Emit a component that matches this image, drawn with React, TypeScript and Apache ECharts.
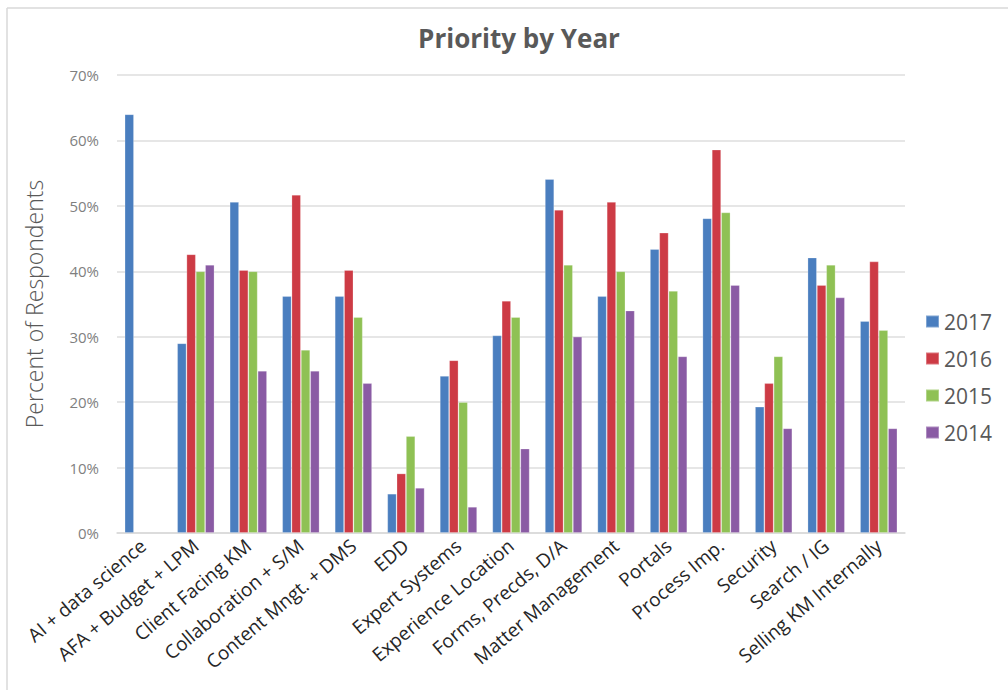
import React, { useEffect, useRef } from "react";
import * as echarts from "echarts";

// Survey priorities, share of respondents (%) per year
const categories = [
  "AI + data science",
  "AFA + Budget + LPM",
  "Client Facing KM",
  "Collaboration + S/M",
  "Content Mngt. + DMS",
  "EDD",
  "Expert Systems",
  "Experience Location",
  "Forms, Precds, D/A",
  "Matter Management",
  "Portals",
  "Process Imp.",
  "Security",
  "Search / IG",
  "Selling KM Internally",
];

const years = ["2017", "2016", "2015", "2014"];

const values2017 = [64, 29, 50.6, 36.2, 36.2, 6, 24, 30.2, 54.1, 36.2, 43.4, 48.1, 19.3, 42.1, 32.4];
const values2016 = [null, 42.6, 40.2, 51.7, 40.2, 9.1, 26.4, 35.5, 49.4, 50.6, 45.9, 58.6, 22.9, 37.9, 41.5];
const values2015 = [null, 40, 40, 28, 33, 14.8, 20, 33, 41, 40, 37, 49, 27, 41, 31];
const values2014 = [null, 41, 24.8, 24.8, 22.9, 6.9, 4, 12.9, 30, 34, 27, 37.9, 16, 36, 16];

const seriesValues = [values2017, values2016, values2015, values2014];
const colors = ["#4a7ebf", "#cd3b45", "#8fc154", "#8a5ba4"];

const yTicks = { min: 0, max: 70, interval: 10 };

const FONT = "'Open Sans', 'DejaVu Sans', sans-serif";

export default function App() {
  const ref = useRef<HTMLDivElement>(null);

  useEffect(() => {
    if (!ref.current) return;
    const chart = echarts.init(ref.current, null, { renderer: "svg" });

    chart.setOption({
      animation: false,
      backgroundColor: "#ffffff",
      color: colors,
      textStyle: { fontFamily: FONT },
      title: {
        text: "Priority by Year",
        left: 514,
        textAlign: "center",
        top: 20,
        textStyle: { fontFamily: FONT, fontSize: 26, fontWeight: "bold", color: "#595959" },
      },
      legend: {
        orient: "vertical",
        left: 920,
        top: 305,
        itemWidth: 13,
        itemHeight: 12,
        itemGap: 14,
        icon: "rect",
        data: years,
        textStyle: { fontFamily: FONT, fontSize: 21, color: "#595959", lineHeight: 23 },
      },
      grid: { left: 117, right: 103, top: 75, bottom: 157, containLabel: false },
      xAxis: {
        type: "category",
        data: categories,
        axisLine: { lineStyle: { color: "#d9d9d9", width: 1.5 } },
        axisTick: { show: false },
        axisLabel: {
          interval: 0,
          rotate: 40,
          margin: 10,
          fontFamily: FONT,
          fontSize: 19,
          color: "#262626",
        },
      },
      yAxis: {
        type: "value",
        min: yTicks.min,
        max: yTicks.max,
        interval: yTicks.interval,
        name: "Percent of Respondents",
        nameLocation: "middle",
        nameGap: 72,
        nameTextStyle: { fontFamily: FONT, fontSize: 23, color: "#595959", fontWeight: 300 },
        axisLine: { show: false },
        axisTick: { show: false },
        axisLabel: {
          formatter: "{value}%",
          margin: 18,
          fontFamily: FONT,
          fontSize: 15,
          color: "#7f7f7f",
        },
        splitLine: { lineStyle: { color: "#dedede", width: 1.5 } },
      },
      series: years.map((y, i) => ({
        name: y,
        type: "bar",
        data: seriesValues[i],
        barGap: "0%",
        barCategoryGap: "29%",
        itemStyle: {
          color: colors[i],
          borderColor: "rgba(255,255,255,0.3)",
          borderWidth: 0.8,
        },
      })),
      graphic: [
        {
          type: "line",
          shape: { x1: 7, y1: 8, x2: 1008, y2: 8 },
          style: { stroke: "#d9d9d9", lineWidth: 1.5 },
        },
        {
          type: "line",
          shape: { x1: 7, y1: 8, x2: 7, y2: 690 },
          style: { stroke: "#d9d9d9", lineWidth: 1.5 },
        },
      ],
    });

    return () => chart.dispose();
  }, []);

  return (
    <div
      ref={ref}
      style={{ position: "fixed", left: 0, top: 0, width: 1008, height: 690 }}
    />
  );
}
